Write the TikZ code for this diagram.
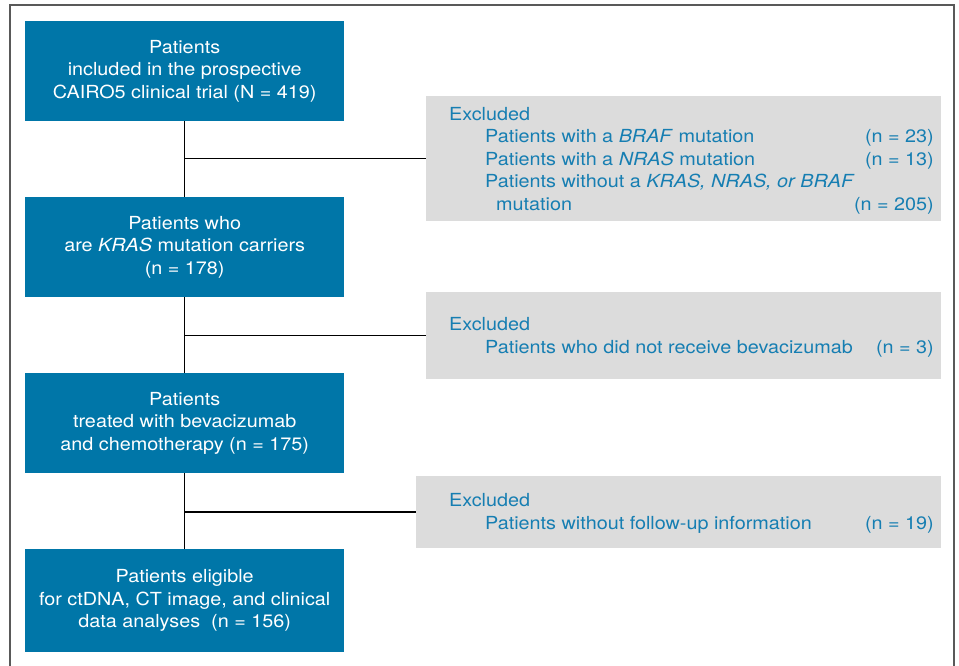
\documentclass[tikz,border=0pt]{standalone}
\usepackage{fontspec}
\setmainfont{TeX Gyre Heros}[FakeStretch=1.1]
\usetikzlibrary{positioning}
\definecolor{cairoblue}{RGB}{0,118,168}
\definecolor{excltext}{RGB}{22,126,178}
\definecolor{exclgray}{RGB}{220,220,220}
\tikzset{
    patbox/.style={fill=cairoblue, text=white, align=center, anchor=north west,
      minimum width=319, minimum height=100, inner sep=0,
      font=\fontsize{18}{22.5}\selectfont},
    exclbox/.style={fill=exclgray, anchor=north west, inner sep=0},
    excltxt/.style={text=excltext, inner sep=0, font=\fontsize{18}{22.5}\selectfont},
    spine/.style={line width=1.5, black},
  }
\begin{document}
\begin{tikzpicture}[x=1pt, y=-1pt]
    \useasboundingbox (0,0) rectangle (959,665);
    \draw[line width=1.5, black!65] (10,670) -- (10,5) -- (954,5) -- (954,670);
    % patient boxes
    \node (incl) [patbox] at (25,21) {Patients\\included in the prospective\\CAIRO5 clinical trial (N = 419)};
    \node (kras) [patbox] at (25,197) {Patients who\\are \textit{KRAS} mutation carriers\\(n = 178)};
    \node (treat) [patbox] at (25,373) {Patients\\treated with bevacizumab\\and chemotherapy (n = 175)};
    \node (elig) [patbox, minimum height=103] at (25,549) {Patients eligible\\for ctDNA, CT image, and clinical\\data analyses~ (n = 156)};
    % exclusion boxes
    \node (exclMut) [exclbox, minimum width=515, minimum height=125] at (426,96) {};
    \node (exclBev) [exclbox, minimum width=515, minimum height=87] at (426,292) {};
    \node (exclFup) [exclbox, minimum width=525, minimum height=72] at (416,476) {};
    \node (mutHead) [excltxt, anchor=base west] at (449,120) {Excluded};
    \node (mutBraf) [excltxt, anchor=base west] at (485,142.5) {Patients with a \textit{BRAF} mutation};
    \node (mutNras) [excltxt, anchor=base west] at (485,165) {Patients with a \textit{NRAS} mutation};
    \node (mutNone) [excltxt, anchor=base west] at (485,187.5) {Patients without a \textit{KRAS, NRAS, or BRAF}};
    \node (mutNoneB) [excltxt, anchor=base west] at (496,210) {mutation};
    \node (nBraf) [excltxt, anchor=base east] at (934,142.5) {(n = 23)};
    \node (nNras) [excltxt, anchor=base east] at (934,165) {(n = 13)};
    \node (nNone) [excltxt, anchor=base east] at (934,210) {(n = 205)};
    \node (bevHead) [excltxt, anchor=base west] at (449,330) {Excluded};
    \node (bevItem) [excltxt, anchor=base west] at (485,353) {Patients who did not receive bevacizumab};
    \node (nBev) [excltxt, anchor=base east] at (934,353) {(n = 3)};
    \node (fupHead) [excltxt, anchor=base west] at (449,506) {Excluded};
    \node (fupItem) [excltxt, anchor=base west] at (485,529) {Patients without follow-up information};
    \node (nFup) [excltxt, anchor=base east] at (934,529) {(n = 19)};
    % connectors
    \draw[spine] (incl.south) -- (kras.north);
    \draw[spine] (kras.south) -- (treat.north);
    \draw[spine] (treat.south) -- (elig.north);
    \draw[spine] (exclMut.west -| incl.south) -- (exclMut.west);
    \draw[spine] (exclBev.west -| kras.south) -- (exclBev.west);
    \draw[spine] (exclFup.west -| treat.south) -- (exclFup.west);
\end{tikzpicture}
\end{document}
